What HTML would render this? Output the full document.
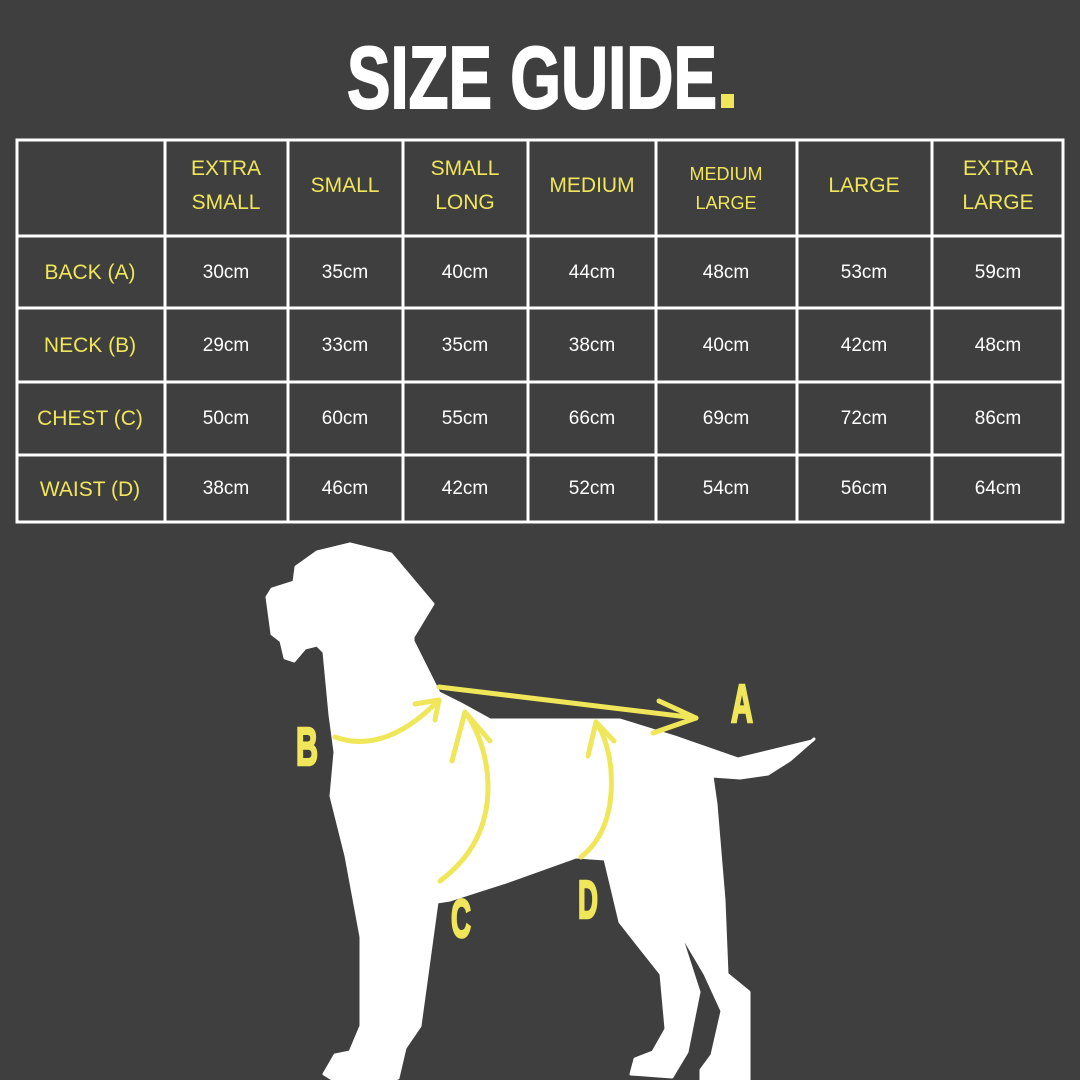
<!DOCTYPE html>
<html><head><meta charset="utf-8"><style>
html,body{margin:0;padding:0;background:#3f3f3f;}
svg{display:block}
</style></head><body>
<svg width="1080" height="1080" viewBox="0 0 1080 1080" xmlns="http://www.w3.org/2000/svg">
<rect width="1080" height="1080" fill="#3f3f3f"/>
<text x="347" y="108" font-family="Liberation Sans, sans-serif" font-weight="bold" font-size="88" fill="#fff" stroke="#fff" stroke-width="2" textLength="370" lengthAdjust="spacingAndGlyphs">SIZE GUIDE</text>
<rect x="721" y="94" width="13" height="14" fill="#f0e65a"/>
<g stroke="#fff" stroke-width="3" fill="none">
<rect x="17" y="140" width="1046" height="382"/>
<line x1="165" y1="140" x2="165" y2="522"/><line x1="288" y1="140" x2="288" y2="522"/>
<line x1="403" y1="140" x2="403" y2="522"/><line x1="528" y1="140" x2="528" y2="522"/>
<line x1="656" y1="140" x2="656" y2="522"/><line x1="797" y1="140" x2="797" y2="522"/>
<line x1="932" y1="140" x2="932" y2="522"/>
<line x1="17" y1="236" x2="1063" y2="236"/><line x1="17" y1="308" x2="1063" y2="308"/>
<line x1="17" y1="382" x2="1063" y2="382"/><line x1="17" y1="455" x2="1063" y2="455"/>
</g>
<g font-family="Liberation Sans, sans-serif" font-size="21" fill="#f0e65a" text-anchor="middle">
<text x="226" y="175">EXTRA</text><text x="226" y="209">SMALL</text>
<text x="345" y="192">SMALL</text>
<text x="465" y="175">SMALL</text><text x="465" y="209">LONG</text>
<text x="592" y="192">MEDIUM</text>
<text x="726" y="180" font-size="18">MEDIUM</text><text x="726" y="209" font-size="18">LARGE</text>
<text x="864" y="192">LARGE</text>
<text x="998" y="175">EXTRA</text><text x="998" y="209">LARGE</text>
<text x="90" y="279">BACK (A)</text>
<text x="90" y="352">NECK (B)</text>
<text x="90" y="425">CHEST (C)</text>
<text x="90" y="496">WAIST (D)</text>
</g>
<g font-family="Liberation Sans, sans-serif" font-size="19" fill="#fff" text-anchor="middle">
<text x="226" y="278">30cm</text><text x="345" y="278">35cm</text><text x="465" y="278">40cm</text><text x="592" y="278">44cm</text><text x="726" y="278">48cm</text><text x="864" y="278">53cm</text><text x="998" y="278">59cm</text>
<text x="226" y="351">29cm</text><text x="345" y="351">33cm</text><text x="465" y="351">35cm</text><text x="592" y="351">38cm</text><text x="726" y="351">40cm</text><text x="864" y="351">42cm</text><text x="998" y="351">48cm</text>
<text x="226" y="424">50cm</text><text x="345" y="424">60cm</text><text x="465" y="424">55cm</text><text x="592" y="424">66cm</text><text x="726" y="424">69cm</text><text x="864" y="424">72cm</text><text x="998" y="424">86cm</text>
<text x="226" y="494">38cm</text><text x="345" y="494">46cm</text><text x="465" y="494">42cm</text><text x="592" y="494">52cm</text><text x="726" y="494">54cm</text><text x="864" y="494">56cm</text><text x="998" y="494">64cm</text>
</g>
<path fill="#fff" stroke="#fff" stroke-width="3" stroke-linejoin="round" d="M350,544 L391,554 L433,604 L413,637 L413,641 L439,693 L461,704 L490,720 L620,720 L675,737 L738,759 L812,741 L814,739 L790,760 L768,774 L740,778 L712,776 L716,804 L724,900 L727,974 L749,992 L749,1085 L701,1085 L701,1070 L712,1055 L722,1011 L705,974 L679,930 L699,992 L687,1052 L672,1077 L631,1074 L635,1059 L653,1052 L666,1029 L661,974 L620,922 L605,859 L576,857 L509,881 L450,900 L437,902 L420,1026 L405,1048 L398,1078 L380,1085 L342,1085 L324,1074 L335,1055 L350,1052 L361,1026 L361,937 L346,856 L331,796 L335,752 L330,715 L324,652 L317,645 L305,648 L294,661 L285,658 L281,641 L272,634 L267,597 L272,589 L294,582 L296,567 L317,552 Z"/>
<g stroke="#f0e65a" stroke-width="5" fill="none" stroke-linecap="round" stroke-linejoin="round">
<path d="M439,687 L696,718"/><path d="M659,701 L696,718 L653,733"/>
<path d="M335,737 Q385,755 439,700"/><path d="M415,704 L439,700 L435,720"/>
<path d="M440,881 Q495,840 487,770 Q482,735 465,712"/><path d="M452,761 L465,712 L490,741"/>
<path d="M581,857 Q615,830 611,770 Q608,740 596,722"/><path d="M588,756 L596,722 L614,741"/>
</g>
<g font-family="Liberation Sans, sans-serif" font-weight="bold" font-size="54" fill="#f0e65a" stroke="#f0e65a" stroke-width="2.5" text-anchor="middle">
<text x="742" y="722" textLength="22" lengthAdjust="spacingAndGlyphs">A</text>
<text x="307" y="765" textLength="22" lengthAdjust="spacingAndGlyphs">B</text>
<text x="461" y="937" textLength="20" lengthAdjust="spacingAndGlyphs">C</text>
<text x="588" y="918" textLength="20" lengthAdjust="spacingAndGlyphs">D</text>
</g>
</svg>
</body></html>
